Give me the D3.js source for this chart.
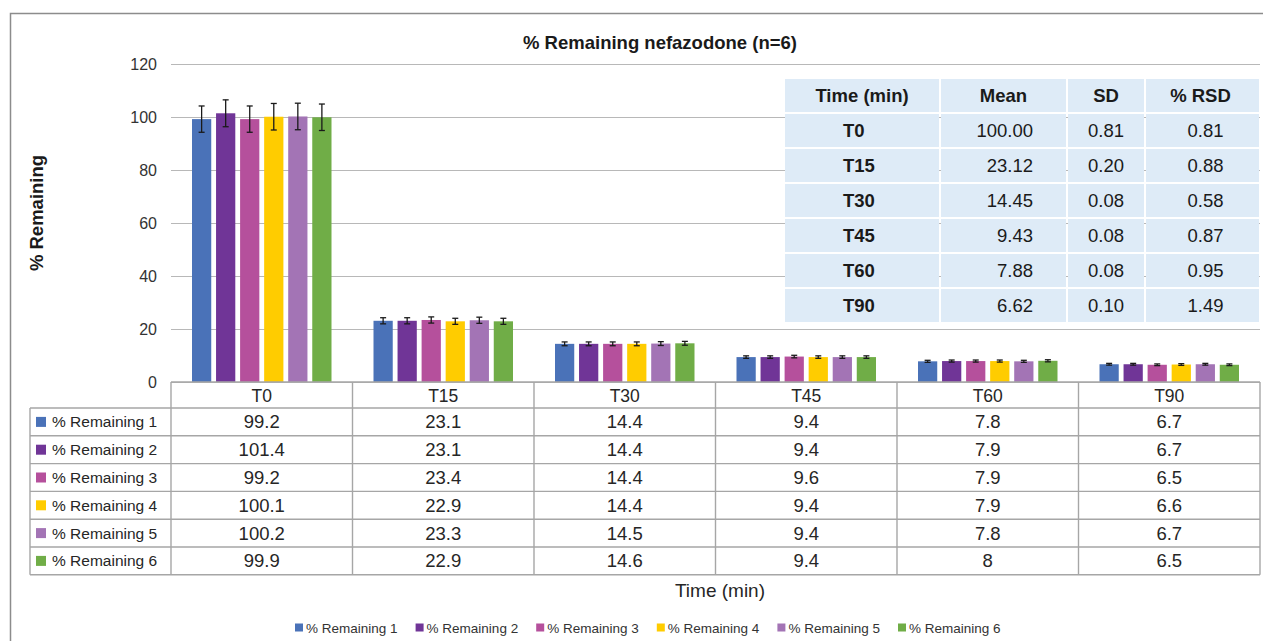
<!DOCTYPE html>
<html>
<head>
<meta charset="utf-8">
<script src="https://cdn.jsdelivr.net/npm/d3@7"></script>
<style>
  body { margin: 0; background: #fff; }
  svg { font-family: "Liberation Sans", Arial, sans-serif; }
</style>
</head>
<body>
<div id="chart"></div>
<script>
const categories = ['T0', 'T15', 'T30', 'T45', 'T60', 'T90'];
const seriesNames = ['% Remaining 1', '% Remaining 2', '% Remaining 3', '% Remaining 4', '% Remaining 5', '% Remaining 6'];
const remaining1 = [99.2, 23.1, 14.4, 9.4, 7.8, 6.7];
const remaining2 = [101.4, 23.1, 14.4, 9.4, 7.9, 6.7];
const remaining3 = [99.2, 23.4, 14.4, 9.6, 7.9, 6.5];
const remaining4 = [100.1, 22.9, 14.4, 9.4, 7.9, 6.6];
const remaining5 = [100.2, 23.3, 14.5, 9.4, 7.8, 6.7];
const remaining6 = [99.9, 22.9, 14.6, 9.4, 8, 6.5];
const yTicks = [0, 20, 40, 60, 80, 100, 120];
const errorPct = 0.05; // Excel percentage error bars (5%)

// summary table
const summaryHeader = ['Time (min)', 'Mean', 'SD', '% RSD'];
const summaryTime = ['T0', 'T15', 'T30', 'T45', 'T60', 'T90'];
const summaryMean = ['100.00', '23.12', '14.45', '9.43', '7.88', '6.62'];
const summarySD = ['0.81', '0.20', '0.08', '0.08', '0.08', '0.10'];
const summaryRSD = ['0.81', '0.88', '0.58', '0.87', '0.95', '1.49'];

const colors = ['#4a72b8', '#703597', '#b5509c', '#ffcc00', '#a374b5', '#70ad47'];
const allSeries = [remaining1, remaining2, remaining3, remaining4, remaining5, remaining6];

const width = 1265;
const height = 641;
const svg = d3.select('#chart').append('svg').attr('width', width).attr('height', height);

// outer frame (left + top visible)
svg.append('path')
  .attr('d', 'M10.5,641 L10.5,13.5 L1263,13.5')
  .attr('fill', 'none')
  .attr('stroke', '#8c8c8c')
  .attr('stroke-width', 1.5);

const plotLeft = 171;
const plotRight = 1260;

const x = d3.scaleBand().domain(categories).range([plotLeft, plotRight]).paddingInner(0).paddingOuter(0);
const y = d3.scaleLinear().domain([0, 120]).range([382, 64]);
const xs = d3.scaleBand().domain(d3.range(6)).range([21, x.bandwidth() - 21]).paddingInner(0.2);

// title
svg.append('text')
  .attr('x', 660).attr('y', 49)
  .attr('text-anchor', 'middle')
  .attr('font-size', 18.5).attr('font-weight', 'bold').attr('fill', '#1a1a1a')
  .text('% Remaining nefazodone (n=6)');

// gridlines
svg.append('g')
  .selectAll('line')
  .data(yTicks)
  .enter()
  .append('line')
  .attr('x1', plotLeft).attr('x2', plotRight)
  .attr('y1', (d) => y(d) + 0.5).attr('y2', (d) => y(d) + 0.5)
  .attr('stroke', '#b8b8b8').attr('stroke-width', 1.2);

// y axis labels
const yAxis = svg.append('g')
  .attr('transform', `translate(${plotLeft}, 0)`)
  .call(d3.axisLeft(y).tickValues(yTicks).tickSize(0).tickPadding(14));
yAxis.select('.domain').remove();
yAxis.selectAll('text').attr('font-size', 16).attr('fill', '#333').attr('font-family', '"Liberation Sans", Arial, sans-serif');

svg.append('text')
  .attr('transform', 'translate(43, 213) rotate(-90)')
  .attr('text-anchor', 'middle')
  .attr('font-size', 18.5).attr('font-weight', 'bold').attr('fill', '#1a1a1a')
  .text('% Remaining');

// bars
const groups = svg.append('g')
  .selectAll('g')
  .data(allSeries)
  .enter()
  .append('g')
  .attr('fill', (d, i) => colors[i]);

groups.each(function (series, si) {
  const g = d3.select(this);
  g.selectAll('rect')
    .data(series)
    .enter()
    .append('rect')
    .attr('x', (d, ci) => x(categories[ci]) + xs(si))
    .attr('y', (d) => y(d))
    .attr('width', xs.bandwidth())
    .attr('height', (d) => y(0) - y(d));

  // error bars
  const eb = g.selectAll('g.err')
    .data(series)
    .enter()
    .append('g')
    .attr('class', 'err')
    .attr('stroke', '#1a1a1a')
    .attr('stroke-width', 1.3);
  eb.append('line')
    .attr('x1', (d, ci) => x(categories[ci]) + xs(si) + xs.bandwidth() / 2)
    .attr('x2', (d, ci) => x(categories[ci]) + xs(si) + xs.bandwidth() / 2)
    .attr('y1', (d) => y(d * (1 + errorPct)))
    .attr('y2', (d) => y(d * (1 - errorPct)));
  [1 + errorPct, 1 - errorPct].forEach((f) => {
    eb.append('line')
      .attr('x1', (d, ci) => x(categories[ci]) + xs(si) + xs.bandwidth() / 2 - 3)
      .attr('x2', (d, ci) => x(categories[ci]) + xs(si) + xs.bandwidth() / 2 + 3)
      .attr('y1', (d) => y(d * f))
      .attr('y2', (d) => y(d * f));
  });
});

// summary table (top right)
const sumCols = [784, 940, 1067, 1145, 1260];
const sumTop = 78;
const sumRowH = 35;
const sumRows = [summaryHeader].concat(summaryTime.map((t, i) => [t, summaryMean[i], summarySD[i], summaryRSD[i]]));
const sumG = svg.append('g');
sumRows.forEach((row, ri) => {
  row.forEach((cell, ci) => {
    sumG.append('rect')
      .attr('x', sumCols[ci] + 1).attr('y', sumTop + ri * sumRowH + 1)
      .attr('width', sumCols[ci + 1] - sumCols[ci] - 2).attr('height', sumRowH - 2)
      .attr('fill', '#deebf7');
    let tx, anchor;
    if (ri === 0) { tx = (sumCols[ci] + sumCols[ci + 1]) / 2 + (ci === 3 ? -2 : 0); anchor = 'middle'; }
    else if (ci === 0) { tx = 843; anchor = 'start'; }
    else if (ci === 1) { tx = 1033; anchor = 'end'; }
    else { tx = (sumCols[ci] + sumCols[ci + 1]) / 2 + (ci === 3 ? 3 : 0); anchor = 'middle'; }
    sumG.append('text')
      .attr('x', tx).attr('y', sumTop + ri * sumRowH + sumRowH / 2 + 6.5)
      .attr('text-anchor', anchor)
      .attr('font-size', ri === 0 ? 18.5 : 18.5)
      .attr('font-weight', ri === 0 || ci === 0 ? 'bold' : 'normal')
      .attr('fill', '#1a1a1a')
      .text(cell);
  });
});

// data table
const tblTop = 382;
const headH = 26;
const rowH = 27.8;
const tblLeft = 30;
const tbl = svg.append('g');
const tblBottom = tblTop + headH + rowH * seriesNames.length;
const lineColor = '#a6a6a6';

// header cells
tbl.selectAll('text.cat')
  .data(categories)
  .enter()
  .append('text')
  .attr('class', 'cat')
  .attr('x', (d) => x(d) + x.bandwidth() / 2)
  .attr('y', tblTop + headH / 2 + 6.5)
  .attr('text-anchor', 'middle')
  .attr('font-size', 17.5).attr('fill', '#262626')
  .text((d) => d);

// horizontal lines
const hLines = [tblTop].concat(d3.range(seriesNames.length + 1).map((i) => tblTop + headH + i * rowH));
hLines.forEach((yy, i) => {
  tbl.append('line')
    .attr('x1', i === 0 ? plotLeft : tblLeft).attr('x2', plotRight)
    .attr('y1', yy).attr('y2', yy)
    .attr('stroke', lineColor).attr('stroke-width', 1.4);
});
// vertical lines
tbl.append('line')
  .attr('x1', tblLeft).attr('x2', tblLeft)
  .attr('y1', tblTop + headH).attr('y2', tblBottom)
  .attr('stroke', lineColor).attr('stroke-width', 1.4);
categories.concat(['end']).forEach((c, i) => {
  const xx = i < categories.length ? x(c) : plotRight;
  tbl.append('line')
    .attr('x1', xx).attr('x2', xx)
    .attr('y1', tblTop).attr('y2', tblBottom)
    .attr('stroke', lineColor).attr('stroke-width', 1.4);
});

seriesNames.forEach((name, si) => {
  const cy = tblTop + headH + si * rowH + rowH / 2;
  tbl.append('rect')
    .attr('x', 36).attr('y', cy - 5).attr('width', 10).attr('height', 10)
    .attr('fill', colors[si]);
  tbl.append('text')
    .attr('x', 52).attr('y', cy + 5.5)
    .attr('font-size', 15.5).attr('fill', '#262626')
    .text(name);
  tbl.selectAll(null)
    .data(allSeries[si])
    .enter()
    .append('text')
    .attr('x', (d, ci) => x(categories[ci]) + x.bandwidth() / 2)
    .attr('y', cy + 6.5)
    .attr('text-anchor', 'middle')
    .attr('font-size', 18.5).attr('fill', '#262626')
    .text((d) => d);
});

// x axis title
svg.append('text')
  .attr('x', 720).attr('y', 597)
  .attr('text-anchor', 'middle')
  .attr('font-size', 19).attr('fill', '#262626')
  .text('Time (min)');

// legend
const legend = svg.append('g')
  .selectAll('g')
  .data(seriesNames)
  .enter()
  .append('g')
  .attr('transform', (d, i) => `translate(${295 + i * 120.6}, 628)`);
legend.append('rect')
  .attr('x', 0).attr('y', -4.5).attr('width', 8).attr('height', 8)
  .attr('fill', (d, i) => colors[i]);
legend.append('text')
  .attr('x', 11).attr('y', 4.5)
  .attr('font-size', 13.5).attr('fill', '#333')
  .text((d) => d);
</script>
</body>
</html>
